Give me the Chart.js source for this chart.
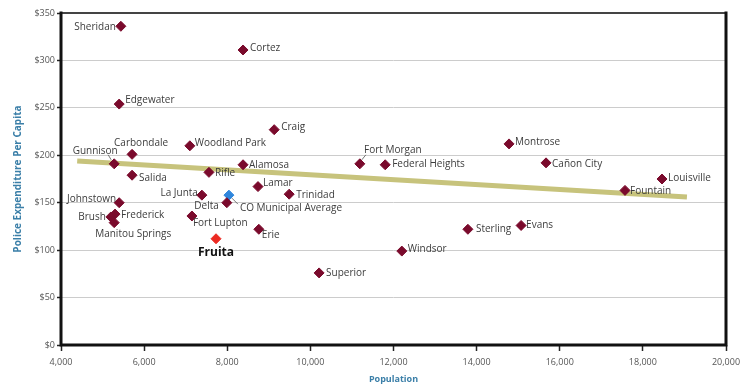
<!DOCTYPE html>
<html>
<head>
<meta charset="utf-8">
<script src="https://cdn.jsdelivr.net/npm/chart.js@4.4.1/dist/chart.umd.min.js"></script>
<style>
  html, body { margin: 0; padding: 0; background: #fff; }
  #wrap { width: 742px; height: 385px; }
</style>
</head>
<body>
<div id="wrap"><canvas id="policeChart" width="742" height="385"></canvas></div>
<script>
// municipalities (population, police expenditure per capita)
const cities = ['Sheridan', 'Cortez', 'Edgewater', 'Craig', 'Carbondale', 'Woodland Park',
  'Gunnison', 'Salida', 'Rifle', 'Alamosa', 'La Junta', 'Delta', 'Johnstown', 'Frederick',
  'Brush', 'Manitou Springs', 'Fort Lupton', 'Lamar', 'Trinidad', 'Erie', 'Windsor',
  'Superior', 'Sterling', 'Fort Morgan', 'Federal Heights', 'Montrose', 'Cañon City',
  'Louisville', 'Fountain', 'Evans'];
const population = [5440, 8380, 5400, 9130, 5710, 7100,
  5280, 5710, 7560, 8380, 7390, 7990, 5400, 5300,
  5200, 5280, 7150, 8740, 9490, 8760, 12200,
  10210, 13790, 11190, 11800, 14780, 15670,
  18460, 17570, 15070];
const spending = [336, 311, 254, 227, 201, 210,
  191, 179, 182, 190, 158, 150, 150, 138,
  135, 129, 136, 167, 159, 122, 99,
  76, 122, 191, 190, 212, 192,
  175, 163, 126];

const fruitaPop = [7730];
const fruitaSpend = [112];
const averagePop = [8040];
const averageSpend = [158];

// trend line end points
const trendPop = [4390, 19060];
const trendSpend = [194, 156];

const toPoints = (xs, ys) => xs.map((x, i) => ({ x: x, y: ys[i] }));

// where each label sits relative to its marker: [dx, dy, align, leader]
const labelPlacement = {
  'Sheridan': [-5, 1, 'right'], 'Cortez': [7, -2, 'left'], 'Edgewater': [6, -4, 'left'],
  'Craig': [7, -3, 'left'], 'Carbondale': [9, -11, 'center'], 'Woodland Park': [5, -3, 'left'],
  'Gunnison': [-19, -13, 'center', true], 'Salida': [7, 3, 'left'], 'Rifle': [6, 1, 'left'],
  'Alamosa': [6, 0, 'left'], 'La Junta': [-4, -2, 'right'], 'Delta': [-8, 3, 'right'],
  'Johnstown': [-3, -4, 'right'], 'Frederick': [6, 1, 'left'], 'Brush': [-5, 0, 'right'],
  'Manitou Springs': [19, 12, 'center'], 'Fort Lupton': [1, 7, 'left'], 'Lamar': [5, -3, 'left'],
  'Trinidad': [7, 1, 'left'], 'Erie': [3, 6, 'left'], 'Windsor': [6, -2, 'left'],
  'Superior': [7, 0, 'left'], 'Sterling': [8, 0, 'left'], 'Fort Morgan': [33, -14, 'center', true],
  'Federal Heights': [7, -1, 'left'], 'Montrose': [6, -2, 'left'], 'Cañon City': [6, 1, 'left'],
  'Louisville': [6, -1, 'left'], 'Fountain': [5, 1, 'left'], 'Evans': [5, 0, 'left']
};

function drawFrame(chart) {
  const a = chart.chartArea;
  const ctx = chart.ctx;
  ctx.save();
  ctx.lineCap = 'square';
  ctx.strokeStyle = '#444444';
  ctx.lineWidth = 2;
  ctx.beginPath();
  ctx.moveTo(a.left, a.top);
  ctx.lineTo(a.right, a.top);
  ctx.stroke();
  ctx.strokeStyle = '#111111';
  ctx.lineWidth = 3;
  ctx.beginPath();
  ctx.moveTo(a.left, a.top);
  ctx.lineTo(a.left, a.bottom);
  ctx.lineTo(a.right, a.bottom);
  ctx.lineTo(a.right, a.top);
  ctx.stroke();
  ctx.restore();
}

const labelPlugin = {
  id: 'pointLabels',
  beforeDatasetsDraw(chart) {
    drawFrame(chart);
  },
  afterDatasetsDraw(chart) {
    const ctx = chart.ctx;
    ctx.save();
    ctx.textBaseline = 'middle';
    ctx.font = '10px "Open Sans"';
    ctx.fillStyle = '#3c3c3c';
    ctx.strokeStyle = '#555';
    ctx.lineWidth = 0.8;
    chart.getDatasetMeta(0).data.forEach((pt, i) => {
      const p = labelPlacement[cities[i]];
      ctx.textAlign = p[2];
      ctx.fillText(cities[i], pt.x + p[0], pt.y + p[1]);
      if (p[3]) {
        ctx.beginPath();
        ctx.moveTo(pt.x + (p[0] < 0 ? -3 : 2), pt.y - 4);
        ctx.lineTo(pt.x + (p[0] < 0 ? -6 : 6), pt.y - 9);
        ctx.stroke();
      }
    });
    // Fruita
    const f = chart.getDatasetMeta(1).data[0];
    ctx.textAlign = 'center';
    ctx.font = 'bold 12px "Open Sans"';
    ctx.fillStyle = '#111';
    ctx.fillText('Fruita', f.x, f.y + 14);
    // state average
    const a = chart.getDatasetMeta(2).data[0];
    ctx.textAlign = 'left';
    ctx.font = '10px "Open Sans"';
    ctx.fillStyle = '#3c3c3c';
    ctx.fillText('CO Municipal Average', a.x + 11, a.y + 13);
    ctx.beginPath();
    ctx.moveTo(a.x + 3, a.y + 3);
    ctx.lineTo(a.x + 9, a.y + 9);
    ctx.stroke();
    ctx.restore();
  }
};

new Chart(document.getElementById('policeChart'), {
  type: 'scatter',
  data: {
    datasets: [{
      label: 'Municipalities',
      data: toPoints(population, spending),
      pointStyle: 'rectRot',
      pointRadius: 5,
      backgroundColor: '#7a0a2c',
      borderColor: '#7a0a2c'
    }, {
      label: 'Fruita',
      data: toPoints(fruitaPop, fruitaSpend),
      pointStyle: 'rectRot',
      pointRadius: 5,
      backgroundColor: '#ec2a22',
      borderColor: '#ec2a22'
    }, {
      label: 'CO Municipal Average',
      data: toPoints(averagePop, averageSpend),
      pointStyle: 'rectRot',
      pointRadius: 5,
      backgroundColor: '#2f86dc',
      borderColor: '#2f86dc'
    }, {
      label: 'Trend',
      data: toPoints(trendPop, trendSpend),
      showLine: true,
      pointRadius: 0,
      borderColor: '#c7c37c',
      borderWidth: 5
    }]
  },
  options: {
    responsive: false,
    animation: false,
    layout: { padding: { top: 13, right: 16, left: 0, bottom: 0 } },
    plugins: { legend: { display: false }, tooltip: { enabled: false } },
    scales: {
      x: {
        min: 4000,
        max: 20000,
        afterFit: (s) => { s.height = 40; s.paddingLeft = 0; s.paddingRight = 0; },
        ticks: {
          stepSize: 2000,
          padding: 6,
          color: '#555',
          font: { family: 'Open Sans', size: 9 },
          callback: (v) => v.toLocaleString('en-US')
        },
        grid: { drawOnChartArea: false, tickLength: 6, tickColor: '#222', tickWidth: 1.5 },
        border: { display: false },
        title: {
          display: true,
          text: 'Population',
          color: '#3b7fa8',
          padding: { top: 0, bottom: 0 },
          font: { family: 'Open Sans', size: 9, weight: 'bold' }
        }
      },
      y: {
        min: 0,
        max: 350,
        afterFit: (s) => { s.width = 61; },
        ticks: {
          stepSize: 50,
          padding: 2,
          color: '#555',
          font: { family: 'Open Sans', size: 9 },
          callback: (v) => '$' + v
        },
        grid: { color: '#cccccc', lineWidth: 1, tickLength: 4, tickColor: '#222', tickWidth: 1.5 },
        border: { display: false },
        title: {
          display: true,
          text: 'Police Expenditure Per Capita',
          color: '#3b7fa8',
          padding: { top: 12, bottom: 0 },
          font: { family: 'Open Sans', size: 10, weight: 'bold' }
        }
      }
    }
  },
  plugins: [labelPlugin]
});
</script>
</body>
</html>
